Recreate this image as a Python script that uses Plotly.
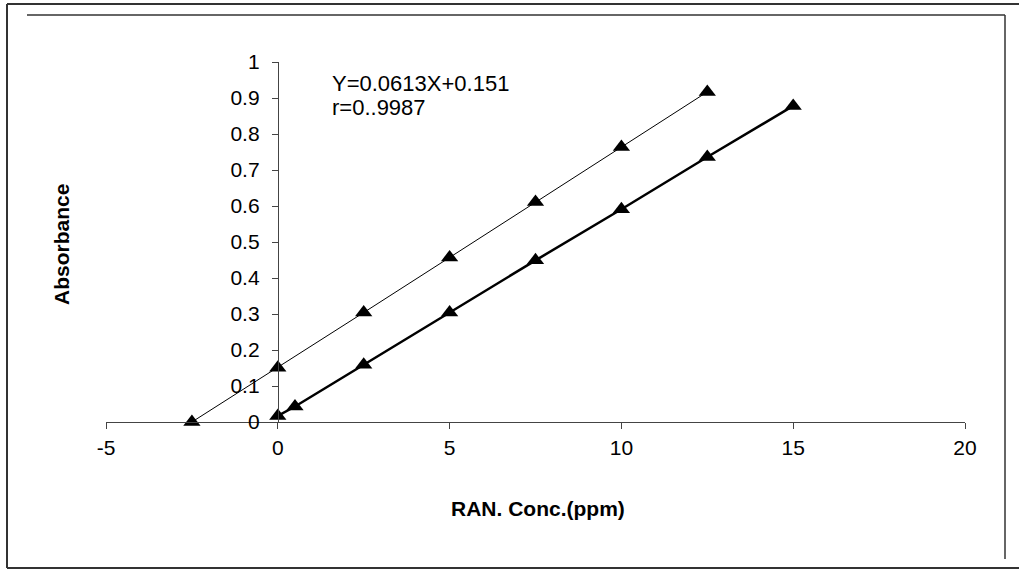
import plotly.graph_objects as go

# Data
std_add_x = [-2.5, 0, 2.5, 5, 7.5, 10, 12.5]
std_add_y = [0.0, 0.151, 0.304, 0.457, 0.611, 0.764, 0.917]
calib_x = [0, 0.5, 2.5, 5, 7.5, 10, 12.5, 15]
calib_y = [0.017, 0.043, 0.159, 0.304, 0.449, 0.591, 0.736, 0.878]
x_ticks = [-5, 0, 5, 10, 15, 20]
x_ticklabels = ["-5", "0", "5", "10", "15", "20"]
y_ticks = [0, 0.1, 0.2, 0.3, 0.4, 0.5, 0.6, 0.7, 0.8, 0.9, 1]
y_ticklabels = ["0", "0.1", "0.2", "0.3", "0.4", "0.5", "0.6", "0.7", "0.8", "0.9", "1"]
eq_line1 = "Y=0.0613X+0.151"
eq_line2 = "r=0..9987"
x_title = "RAN. Conc.(ppm)"
y_title = "Absorbance"

W, H = 1019, 570
L, R, T, B = 106, 54, 62, 148
pw, ph = W - L - R, H - T - B

def px(xp):
    return (xp - L) / pw

def py(yp):
    return (H - B - yp) / ph

fnt = "Liberation Sans, Arial, sans-serif"

fig = go.Figure()
fig.add_trace(go.Scatter(x=std_add_x, y=std_add_y, mode="lines+markers",
                         line=dict(color="black", width=1),
                         marker=dict(symbol="triangle-up", size=15, color="black"),
                         showlegend=False, cliponaxis=False))
fig.add_trace(go.Scatter(x=calib_x, y=calib_y, mode="lines+markers",
                         line=dict(color="black", width=2.5),
                         marker=dict(symbol="triangle-up", size=15, color="black"),
                         showlegend=False, cliponaxis=False))

fig.update_layout(
    width=W, height=H,
    margin=dict(l=L, r=R, t=T, b=B),
    paper_bgcolor="white", plot_bgcolor="white",
    font=dict(family=fnt, size=21, color="black"),
    xaxis=dict(range=[-5, 20], tickvals=x_ticks, ticktext=x_ticklabels,
               ticks="outside", ticklen=6,
               tickcolor="#444", showline=True, linecolor="#444", linewidth=1,
               showgrid=False, zeroline=False, tickfont=dict(size=21),
               ticklabelstandoff=1),
    yaxis=dict(range=[0, 1], tickvals=y_ticks, ticktext=y_ticklabels,
               ticks="outside", ticklen=6, tickcolor="#444",
               showline=True, linecolor="#444", linewidth=1,
               anchor="free", position=0.2, showgrid=False, zeroline=False,
               tickfont=dict(size=21), ticklabelstandoff=8),
)

fig.add_annotation(text=eq_line1, xref="paper", yref="paper", x=px(330), y=py(83),
                   xanchor="left", yanchor="middle", showarrow=False, align="left",
                   font=dict(size=22))
fig.add_annotation(text=eq_line2, xref="paper", yref="paper", x=px(330), y=py(107),
                   xanchor="left", yanchor="middle", showarrow=False, align="left",
                   font=dict(size=22))
fig.add_annotation(text="<b>" + x_title + "</b>", xref="paper", yref="paper",
                   x=px(538), y=py(508), xanchor="center", yanchor="middle",
                   showarrow=False, font=dict(size=21))
fig.add_annotation(text="<b>" + y_title + "</b>", xref="paper", yref="paper",
                   x=px(61), y=py(245), xanchor="center", yanchor="middle",
                   textangle=-90, showarrow=False, font=dict(size=21))

frame = dict(color="#333", width=2)
# outer frame pieces
fig.add_shape(type="line", xref="paper", yref="paper", x0=px(7), x1=px(1019), y0=py(4), y1=py(4), line=frame)
fig.add_shape(type="line", xref="paper", yref="paper", x0=px(7), x1=px(1019), y0=py(568), y1=py(568), line=frame)
fig.add_shape(type="line", xref="paper", yref="paper", x0=px(7), x1=px(7), y0=py(4), y1=py(568), line=frame)
# inner frame pieces
fig.add_shape(type="line", xref="paper", yref="paper", x0=px(27), x1=px(1005), y0=py(15), y1=py(15), line=dict(color="#333", width=1.5))
fig.add_shape(type="line", xref="paper", yref="paper", x0=px(1005), x1=px(1005), y0=py(15), y1=py(559), line=dict(color="#333", width=1.5))

fig.write_html("out.html", config={"displayModeBar": False},
               post_script="document.body.style.margin='0px';")
